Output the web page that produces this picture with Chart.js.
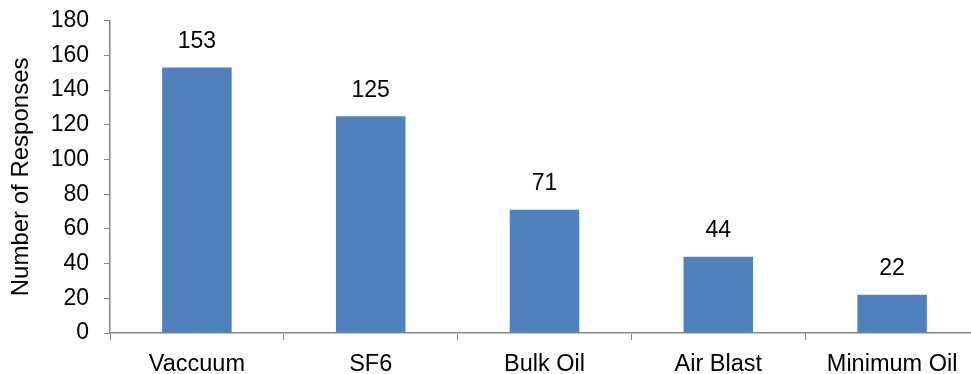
<!DOCTYPE html>
<html>
<head>
<meta charset="utf-8">
<script src="https://cdn.jsdelivr.net/npm/chart.js@4.4.1/dist/chart.umd.min.js"></script>
<style>
  html, body { margin: 0; padding: 0; background: #ffffff; overflow: hidden; }
  #wrap { width: 982px; height: 374px; }
</style>
</head>
<body>
<div id="wrap"><canvas id="chart" width="982" height="374"></canvas></div>
<script>
// Breaker type survey results
const categories = ['Vaccuum', 'SF6', 'Bulk Oil', 'Air Blast', 'Minimum Oil'];
const responses = [153, 125, 71, 44, 22];
const yTicks = [0, 20, 40, 60, 80, 100, 120, 140, 160, 180];

const FONT = "'Liberation Sans', Arial, sans-serif";
const AXIS = '#868686';

// Writes each bar's value above it
const valueLabels = {
  id: 'valueLabels',
  afterDatasetsDraw(chart) {
    const ctx = chart.ctx;
    const meta = chart.getDatasetMeta(0);
    ctx.save();
    ctx.font = '23px ' + FONT;
    ctx.fillStyle = '#000000';
    ctx.textAlign = 'center';
    ctx.textBaseline = 'middle';
    meta.data.forEach((bar, i) => {
      ctx.fillText(String(chart.data.datasets[0].data[i]), bar.x, bar.y - 26);
    });
    ctx.restore();
  }
};

new Chart(document.getElementById('chart'), {
  type: 'bar',
  data: {
    labels: categories,
    datasets: [{
      data: responses,
      backgroundColor: '#4F81BD',
      borderWidth: 0,
      barPercentage: 0.4,
      categoryPercentage: 1.0
    }]
  },
  options: {
    responsive: false,
    animation: false,
    devicePixelRatio: 1,
    layout: { padding: { top: 20, right: 3, left: 0, bottom: 0 } },
    plugins: {
      legend: { display: false },
      tooltip: { enabled: false }
    },
    scales: {
      x: {
        grid: {
          offset: true,
          drawOnChartArea: false,
          drawTicks: true,
          tickLength: 7,
          color: AXIS
        },
        border: { color: AXIS, width: 1.5 },
        ticks: {
          color: '#000000',
          font: { family: FONT, size: 23.5 },
          padding: 10,
          maxRotation: 0
        },
        afterFit(scale) { scale.height = 41; }
      },
      y: {
        min: 0,
        max: 180,
        afterBuildTicks(scale) { scale.ticks = yTicks.map(v => ({ value: v })); },
        grid: {
          drawOnChartArea: false,
          drawTicks: true,
          tickLength: 6,
          color: AXIS
        },
        border: { color: AXIS, width: 1.5 },
        ticks: {
          color: '#000000',
          font: { family: FONT, size: 23, lineHeight: 0.5 },
          padding: 15
        },
        title: {
          display: true,
          text: 'Number of Responses',
          color: '#000000',
          font: { family: FONT, size: 24 },
          padding: { top: 7, bottom: 0 }
        },
        afterFit(scale) { scale.width = 110; }
      }
    }
  },
  plugins: [valueLabels]
});
</script>
</body>
</html>
